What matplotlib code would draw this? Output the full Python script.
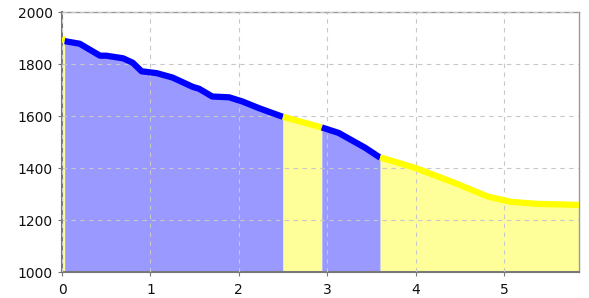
import matplotlib
matplotlib.use("Agg")
import matplotlib.pyplot as plt
import numpy as np

# curve
xs = [0.0, 0.03, 0.2, 0.3, 0.43, 0.5, 0.69, 0.8, 0.9, 1.07, 1.25, 1.48, 1.55, 1.70, 1.89,
      2.04, 2.23, 2.49, 2.94, 3.13, 3.43, 3.59, 3.69, 4.0, 4.45, 4.82, 5.08, 5.38, 5.85]
ys = [1900, 1888, 1878, 1858, 1832, 1832, 1822, 1805, 1772, 1765, 1748, 1712, 1705, 1675, 1672,
      1656, 1630, 1598, 1556, 1535, 1478, 1442, 1432, 1400, 1342, 1290, 1270, 1262, 1258]

# sections along x and their colour
bounds = [0.0, 0.03, 2.5, 2.94, 3.6, 5.85]
kinds = ["yellow", "blue", "yellow", "blue", "yellow"]

line_col = {"blue": "#0000ff", "yellow": "#ffff00"}
fill_col = {"blue": "#9999ff", "yellow": "#ffff99"}

plt.rcParams['font.family'] = ['DejaVu Sans']

fig = plt.figure(figsize=(5.89, 2.98), dpi=100)
ax = fig.add_axes([0.1053, 0.0872, 0.8777, 0.8725])

xs = np.array(xs, dtype=float)
ys = np.array(ys, dtype=float)

for i, k in enumerate(kinds):
    a, b = bounds[i], bounds[i + 1]
    inner = (xs > a) & (xs < b)
    sx = np.concatenate([[a], xs[inner], [b]])
    sy = np.interp(sx, xs, ys)
    ax.fill_between(sx, 1000, sy, color=fill_col[k], lw=0, zorder=1)

for i, k in enumerate(kinds):
    a, b = bounds[i], bounds[i + 1]
    inner = (xs > a) & (xs < b)
    sx = np.concatenate([[a], xs[inner], [b]])
    sy = np.interp(sx, xs, ys)
    ax.plot(sx, sy, color=line_col[k], lw=4.5, solid_capstyle="butt",
            solid_joinstyle="round", zorder=3)

ax.set_xlim(0, 5.85)
ax.set_ylim(1000, 2000)
ax.set_xticks(range(0, 6))
ax.set_yticks(range(1000, 2001, 200))
ax.grid(True, linestyle=(0, (4, 4)), color="#c8c8c8", lw=0.8, zorder=2)
ax.set_axisbelow(False)

for s in ["left", "bottom"]:
    ax.spines[s].set_color("#777777")
    ax.spines[s].set_linewidth(1.5)
for s in ["top", "right"]:
    ax.spines[s].set_color("#999999")
    ax.spines[s].set_linewidth(1.0)

ax.tick_params(labelsize=10, length=3, color="#777777", labelcolor="#111111")
ax.tick_params(axis="x", pad=5)

fig.savefig("out.png", dpi=100)
